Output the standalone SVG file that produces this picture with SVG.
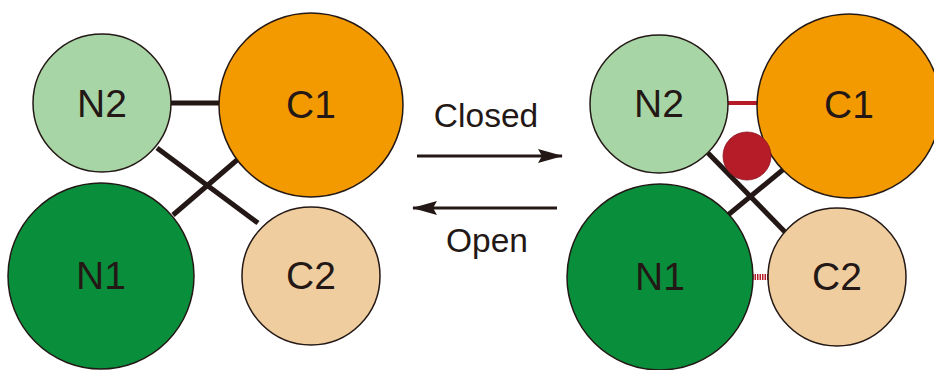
<svg xmlns="http://www.w3.org/2000/svg" width="934" height="370" viewBox="0 0 934 370">
<defs>
<style>
.node{stroke:#231815;stroke-width:1.5}
.n2{fill:#a8d5a6}.c1{fill:#f39a00}.n1{fill:#098f3c}.c2{fill:#f0cd9e}
.lbl{font-family:"Liberation Sans",Arial,sans-serif;font-size:39px;fill:#231815;text-anchor:middle}
.bond{stroke:#231815;stroke-width:5;fill:none}
.red{stroke:#b61c28;stroke-width:4;fill:none}
.arr{stroke:#231815;stroke-width:2.8;fill:none}
.cap{font-family:"Liberation Sans",Arial,sans-serif;font-size:33.5px;fill:#231815;text-anchor:middle}
</style>
<marker id="ah" viewBox="0 0 25 14" refX="24" refY="7" markerWidth="25" markerHeight="14" markerUnits="userSpaceOnUse" orient="auto">
<path d="M0,0 L25,7 L0,14 L4,7 Z" fill="#231815"/>
</marker>
</defs>
<g id="connectors">
<line class="bond" x1="171" y1="103" x2="219" y2="103"/>
<line class="bond" x1="157" y1="148" x2="258" y2="223"/>
<line class="bond" x1="173" y1="215" x2="237" y2="160"/>
<line class="red" x1="727" y1="103" x2="760" y2="103"/>
<line class="bond" x1="708" y1="153" x2="785" y2="232"/>
<line class="bond" x1="728" y1="215" x2="785" y2="168"/>
<line x1="752" y1="277" x2="769" y2="277" stroke="#b61c28" stroke-width="6" stroke-dasharray="1.5,1"/>
<line class="arr" x1="417" y1="156" x2="562" y2="156" marker-end="url(#ah)"/>
<line class="arr" x1="557" y1="208" x2="413" y2="208" marker-end="url(#ah)"/>
</g>
<g id="left-N2"><circle class="node n2" cx="102" cy="103" r="69"/><text class="lbl" x="102" y="117">N2</text></g>
<g id="left-C1"><circle class="node c1" cx="311" cy="105" r="92"/><text class="lbl" x="311" y="118">C1</text></g>
<g id="left-N1"><circle class="node n1" cx="101" cy="276" r="93"/><text class="lbl" x="101" y="289">N1</text></g>
<g id="left-C2"><circle class="node c2" cx="311" cy="276" r="69"/><text class="lbl" x="311" y="289">C2</text></g>
<g id="label-closed"><text class="cap" x="486" y="127">Closed</text></g>
<g id="label-open"><text class="cap" x="487" y="252">Open</text></g>
<g id="right-N2"><circle class="node n2" cx="659" cy="104" r="69"/><text class="lbl" x="659" y="117">N2</text></g>
<g id="right-C1"><circle class="node c1" cx="849" cy="106" r="92"/><text class="lbl" x="849" y="118">C1</text></g>
<g id="right-N1"><circle class="node n1" cx="660" cy="277" r="93"/><text class="lbl" x="660" y="290">N1</text></g>
<g id="right-C2"><circle class="node c2" cx="837" cy="277" r="69"/><text class="lbl" x="837" y="290">C2</text></g>
<g id="ligand"><circle cx="747" cy="156" r="24" fill="#b61c28" stroke="#8a1520" stroke-width="0.8"/></g>
</svg>
